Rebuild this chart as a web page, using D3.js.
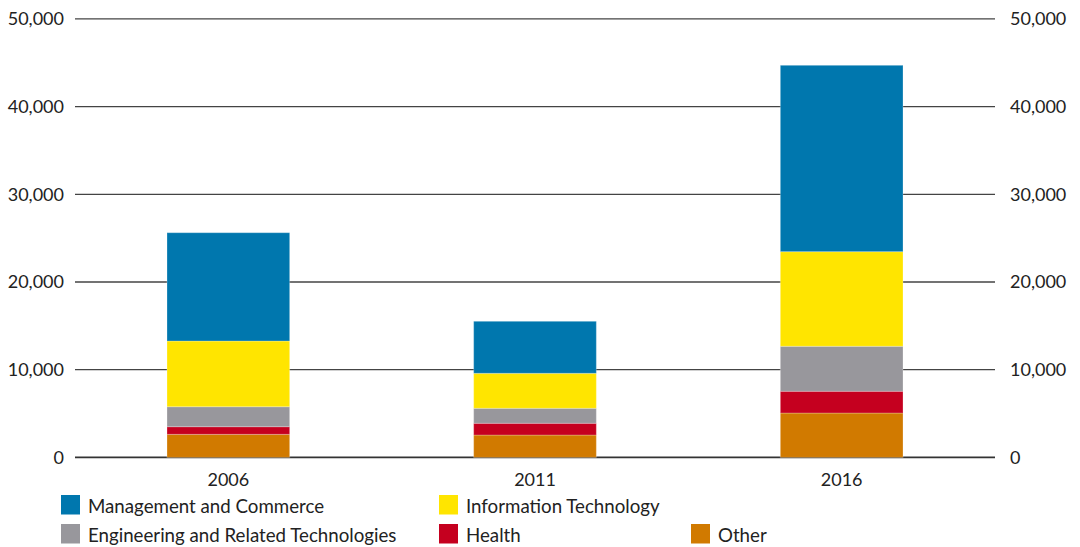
<!DOCTYPE html>
<html>
<head>
<meta charset="utf-8">
<script src="https://cdn.jsdelivr.net/npm/d3@7"></script>
<style>
  html, body { margin: 0; padding: 0; background: #fff; }
  svg { display: block; font-family: Lato, "Open Sans", sans-serif; }
</style>
</head>
<body>
<svg id="chart" width="1080" height="547"></svg>
<script>
// Census years shown on the x axis
const years = ["2006", "2011", "2016"];

// Field-of-study groups, stacked bottom to top
const fields = ["Other", "Health", "Engineering and Related Technologies", "Information Technology", "Management and Commerce"];

// Counts per field, one value per year
const other       = [2630, 2550, 5060];
const health      = [870, 1340, 2480];
const engineering = [2280, 1710, 5130];
const infoTech    = [7490, 3990, 10790];
const management  = [12350, 5930, 21250];

// Axis ticks
const yTicks = [0, 10000, 20000, 30000, 40000, 50000];

// Legend order (row by row)
const legendOrder = ["Management and Commerce", "Information Technology", "Engineering and Related Technologies", "Health", "Other"];

const colors = {
  "Management and Commerce": "#0077ae",
  "Information Technology": "#ffe500",
  "Engineering and Related Technologies": "#98979c",
  "Health": "#c5001f",
  "Other": "#d17a00"
};

const seriesByField = {
  "Other": other,
  "Health": health,
  "Engineering and Related Technologies": engineering,
  "Information Technology": infoTech,
  "Management and Commerce": management
};

const rows = years.map((yr, i) => {
  const r = { year: yr };
  fields.forEach(f => { r[f] = seriesByField[f][i]; });
  return r;
});

const svg = d3.select("#chart");
const plotLeft = 75, plotRight = 995, plotTop = 18.9, plotBottom = 457.4;
const axisFont = 18;

const x = d3.scaleBand().domain(years).range([plotLeft, plotRight])
  .paddingInner(0.6).paddingOuter(0.3);
const y = d3.scaleLinear().domain([0, 50000]).range([plotBottom, plotTop]);

const fmt = d3.format(",");

// Gridlines
svg.append("g").selectAll("line")
  .data(yTicks)
  .join("line")
  .attr("x1", plotLeft).attr("x2", plotRight)
  .attr("y1", d => y(d)).attr("y2", d => y(d))
  .attr("stroke", d => d === 0 ? "#333" : "#444")
  .attr("stroke-width", d => d === 0 ? 1.6 : 1.3);

// Left axis labels
const leftAxis = svg.append("g")
  .attr("transform", `translate(${plotLeft},0)`)
  .call(d3.axisLeft(y).tickValues(yTicks).tickFormat(fmt).tickSize(0).tickPadding(11));
leftAxis.select(".domain").remove();
leftAxis.selectAll("text").attr("font-size", axisFont).attr("fill", "#222").attr("font-family", "Lato, sans-serif");

// Right axis labels
const rightAxis = svg.append("g")
  .attr("transform", `translate(${plotRight},0)`)
  .call(d3.axisRight(y).tickValues(yTicks).tickFormat(fmt).tickSize(0).tickPadding(15));
rightAxis.select(".domain").remove();
rightAxis.selectAll("text").attr("font-size", axisFont).attr("fill", "#222").attr("font-family", "Lato, sans-serif");

// Stacked bars
const stack = d3.stack().keys(fields)(rows);
svg.append("g").selectAll("g")
  .data(stack)
  .join("g")
  .attr("fill", d => colors[d.key])
  .selectAll("rect")
  .data(d => d)
  .join("rect")
  .attr("x", d => x(d.data.year))
  .attr("width", x.bandwidth())
  .attr("y", d => y(d[1]))
  .attr("height", d => y(d[0]) - y(d[1]))
  .attr("stroke", "#ffffff")
  .attr("stroke-opacity", 0.25)
  .attr("stroke-width", 1);

// X axis labels
const xAxis = svg.append("g")
  .attr("transform", `translate(0,${plotBottom})`)
  .call(d3.axisBottom(x).tickSize(0).tickPadding(16));
xAxis.select(".domain").remove();
xAxis.selectAll("text").attr("font-size", axisFont).attr("fill", "#222").attr("font-family", "Lato, sans-serif");

// Legend
const legendCols = [61, 439, 691];
const legendRows = [495, 524];
const legendPos = [
  [0, 0], [1, 0],
  [0, 1], [1, 1], [2, 1]
];
const legend = svg.append("g").selectAll("g")
  .data(legendOrder)
  .join("g")
  .attr("transform", (d, i) => `translate(${legendCols[legendPos[i][0]]},${legendRows[legendPos[i][1]]})`);
legend.append("rect")
  .attr("width", 19).attr("height", 19.5)
  .attr("fill", d => colors[d]);
legend.append("text")
  .attr("x", 27).attr("y", 17.5)
  .attr("font-size", 18.7)
  .attr("fill", "#222")
  .text(d => d);
</script>
</body>
</html>
